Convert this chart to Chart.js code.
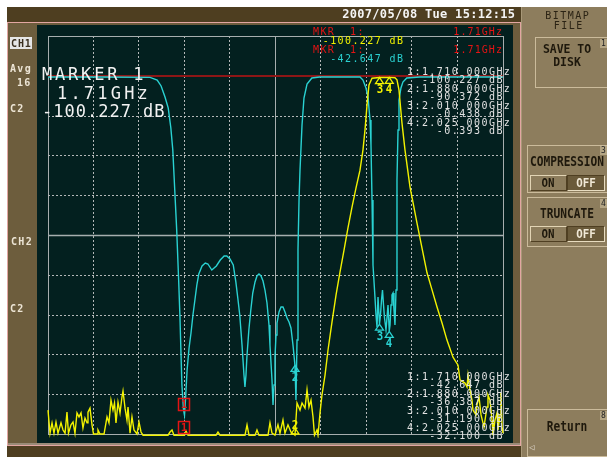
<!DOCTYPE html>
<html><head><meta charset="utf-8"><title>Network analyzer screen</title>
<script src="https://cdn.jsdelivr.net/npm/chart.js@4.4.1/dist/chart.umd.min.js"></script>
<style>
html,body{margin:0;padding:0;background:#ffffff;}
#wrap{position:relative;width:607px;height:457px;overflow:hidden;}
#bg,#fg{position:absolute;left:0;top:0;width:607px;height:457px;}
#fg{pointer-events:none;}
.r{position:absolute;box-sizing:border-box;}
.t{position:absolute;white-space:pre;font-family:"DejaVu Sans Mono",monospace;}
#c{position:absolute;left:0;top:0;}
</style></head>
<body><div id="wrap"><div id="bg"></div><canvas id="c" width="607" height="457"></canvas><div id="fg"></div></div>
<script>
// ---------- data ----------
const gridFreqs = [1.50,1.57,1.64,1.71,1.78,1.85,1.92,1.99,2.06,2.13,2.20];   // GHz, 0.07 GHz/div
const gridDbCyan = [5,0,-5,-10,-15,-20,-25,-30,-35,-40,-45];                  // 5 dB/div
const refDbCyan = 0;

const markerFreqs = [1.710, 1.880, 2.010, 2.025];
const yellowMarkerDb = [-100.227, -90.372, -0.438, -0.393];
const cyanMarkerDb = [-42.647, -36.387, -31.190, -32.100];

const cyanF = [1.500,1.580,1.657,1.668,1.674,1.680,1.685,1.689,1.692,1.695,
1.698,1.701,1.703,1.706,1.7085,1.710,1.7115,1.714,1.717,1.720,
1.723,1.726,1.729,1.732,1.737,1.742,1.746,1.752,1.759,1.765,
1.771,1.775,1.780,1.785,1.789,1.792,1.795,1.7985,1.8015,1.803,
1.8046,1.806,1.809,1.812,1.815,1.8185,1.8215,1.8246,1.8277,1.8308,
1.8338,1.8369,1.840,1.8415,1.8446,1.8462,1.8477,1.8492,1.8508,1.8523,
1.8554,1.8585,1.8615,1.8646,1.8677,1.8708,1.8738,1.8769,1.880,1.8815,
1.8831,1.8846,1.8862,1.8877,1.8908,1.8938,1.8985,1.906,1.918,1.980,
1.9846,1.9892,1.9923,1.9954,1.9969,1.9985,2.000,2.003,2.0046,2.0062,
2.0077,2.010,2.0115,2.0131,2.0146,2.0162,2.0177,2.020,2.0215,2.0231,
2.025,2.0262,2.0277,2.0292,2.0308,2.0323,2.0338,2.0354,2.0369,2.0385,
2.040,2.043,2.046,2.052,2.072,2.200];
const cyanDb = [-0.15,-0.15,-0.20,-0.53,-1.28,-2.66,-4.05,-6.56,-9.32,-14.35,
-19.37,-25.65,-30.30,-38.84,-41.98,-42.65,-40.73,-36.96,-34.20,-32.31,
-30.05,-28.17,-26.28,-24.90,-23.89,-23.52,-23.64,-24.40,-23.89,-23.14,
-22.64,-22.64,-23.02,-23.77,-25.90,-27.91,-30.05,-33.82,-37.59,-39.10,
-37.59,-35.33,-31.93,-29.42,-27.29,-25.90,-25.15,-24.90,-25.15,-25.78,
-26.91,-28.54,-31.31,-33.82,-38.22,-41.36,-38.84,-35.33,-32.56,-31.06,
-29.67,-29.05,-29.05,-29.67,-30.43,-30.93,-31.68,-33.82,-36.46,-40.73,
-33.19,-21.88,-15.60,-11.83,-6.18,-2.79,-1.03,-0.28,-0.15,-0.15,
-0.53,-1.53,-2.66,-5.55,-8.69,-15.60,-23.77,-27.79,-30.05,-31.56,
-27.79,-31.18,-30.05,-28.17,-26.91,-28.79,-30.43,-31.93,-30.43,-28.79,
-32.06,-31.31,-28.79,-27.54,-27.29,-29.42,-31.31,-26.91,-13.09,-6.81,
-3.04,-1.53,-0.78,-0.28,-0.15,-0.15];

const yellowF = [1.5000,1.5031,1.5062,1.5092,1.5123,1.5154,1.5200,1.5231,1.5262,1.5292,
1.5315,1.5354,1.5385,1.5415,1.5446,1.5477,1.5508,1.5538,1.5569,1.5600,
1.5615,1.5646,1.5677,1.5700,1.5754,1.5769,1.5800,1.5862,1.5908,1.5938,
1.5969,1.6000,1.6023,1.6046,1.6077,1.6108,1.6138,1.6154,1.6185,1.6215,
1.6231,1.6262,1.6292,1.6323,1.6369,1.6400,1.6431,1.6462,1.6846,1.6877,
1.6908,1.6938,1.7100,1.7123,1.7154,1.7585,1.7615,1.7646,1.8031,1.8062,
1.8092,1.8185,1.8215,1.8246,1.8385,1.8415,1.8446,1.8492,1.8538,1.8569,
1.8615,1.8646,1.8692,1.8738,1.8800,1.8831,1.8877,1.8908,1.8954,1.8985,
1.9015,1.9046,1.9077,1.9100,1.9138,1.9154,1.9185,1.9215,1.9262,1.9308,
1.9369,1.9431,1.9492,1.9554,1.9615,1.9677,1.9738,1.9800,1.9846,1.9877,
1.9908,1.9938,1.9985,2.0100,2.0250,2.0338,2.0369,2.0400,2.0446,2.0492,
2.0569,2.0677,2.0754,2.0831,2.0908,2.0985,2.1062,2.1138,2.1231,2.1308,
2.1338,2.1415,2.1446,2.1462,2.1492,2.1523,2.1538,2.1585,2.1600,2.1631,
2.1662,2.1692,2.1708,2.1754,2.1769,2.1800,2.1831,2.1846,2.1877,2.1908,
2.1923,2.1954,2.1969,2.1985,2.2000];
const yellowDb = [-84.0,-89.8,-87.2,-89.8,-87.0,-89.8,-87.2,-89.0,-89.8,-84.5,
-89.8,-87.7,-87.0,-89.8,-84.7,-85.7,-84.7,-88.5,-86.0,-87.2,
-84.5,-83.5,-87.7,-90.0,-90.0,-89.0,-90.0,-90.0,-85.7,-87.2,
-81.5,-84.0,-82.2,-87.2,-82.0,-84.7,-80.7,-79.2,-83.5,-86.5,
-83.2,-89.8,-85.7,-89.0,-90.0,-87.0,-89.5,-90.3,-90.3,-89.5,
-89.0,-90.3,-90.3,-89.2,-90.3,-90.3,-89.5,-90.3,-90.3,-87.7,
-90.3,-90.3,-89.0,-90.3,-90.3,-87.2,-89.8,-90.3,-87.7,-89.8,
-86.5,-89.8,-87.7,-89.5,-90.3,-82.2,-84.0,-82.2,-83.5,-78.9,
-83.2,-81.5,-85.7,-90.3,-89.0,-90.3,-84.7,-80.2,-75.2,-68.9,
-61.9,-55.1,-49.3,-43.8,-38.2,-33.0,-28.2,-23.7,-18.6,-13.6,
-7.3,-2.3,-0.6,-0.44,-0.39,-0.5,-1.0,-3.6,-11.9,-18.6,
-27.9,-37.0,-43.3,-49.5,-53.8,-58.1,-62.1,-66.4,-70.7,-72.7,
-76.4,-77.2,-78.2,-75.2,-78.9,-81.5,-84.0,-85.2,-82.7,-80.7,
-85.2,-87.2,-88.2,-83.2,-80.2,-81.5,-86.5,-90.3,-86.5,-84.7,
-89.0,-85.2,-79.5,-88.2,-89.8];

// ---------- colours ----------
const CYAN = '#2ad2d2', YEL = '#f2f200', RED = '#e41414';

// ---------- helpers ----------
const bg = document.getElementById('bg'), fg = document.getElementById('fg');
function rect(x,y,w,h,color,extra){
  const d=document.createElement('div'); d.className='r';
  Object.assign(d.style,{left:x+'px',top:y+'px',width:w+'px',height:h+'px',background:color},extra||{});
  bg.appendChild(d); return d;
}
function txt(s,x,base,size,color,o){
  o=o||{};
  const d=document.createElement('div'); d.className='t'; d.textContent=s;
  d.style.fontSize=size+'px'; d.style.lineHeight=size+'px'; d.style.color=color;
  d.style.top=(base-0.846*size)+'px';
  if(o.bold) d.style.fontWeight='bold';
  const ls=o.ls||0; if(ls) d.style.letterSpacing=ls+'px';
  const sx=o.sx||1;
  if(o.align==='right'){
    d.style.right=(607-x-ls)+'px'; d.style.transformOrigin='right center';
    if(sx!==1) d.style.transform='scaleX('+sx+')';
  } else if(o.align==='center'){
    d.style.left=(x+ls/2)+'px'; d.style.transformOrigin='center center';
    d.style.transform='translateX(-50%)'+(sx!==1?' scaleX('+sx+')':'');
  } else {
    d.style.left=x+'px'; d.style.transformOrigin='left center';
    if(sx!==1) d.style.transform='scaleX('+sx+')';
  }
  fg.appendChild(d); return d;
}

// ---------- screen frame ----------
const TOP='#4e3e20', BROWN='#6d5d3d', TAN='#8d7d5d', PINK='#e2a6a2', PLOT='#03201f';
rect(7,7,515,15,TOP);
rect(7,22,515,1,PINK);
rect(7,23,514,423,BROWN);
rect(7,22,1,424,PINK);
rect(520,22,1,424,PINK);
rect(37,25,476,418,PLOT);
rect(8,443,512,2,'#9a8b78');
rect(7,445,514,1,PINK);
rect(7,446,515,11,TOP);
rect(521,7,86,450,TAN);
rect(521,7,1,450,'#a89878');
const LIGHT='#cbbb9b', DARK='#4f3f22';
function panelBox(x,y,w,h){rect(x,y,w,h,TAN,{borderTop:'1px solid '+LIGHT,borderLeft:'1px solid '+LIGHT,borderBottom:'1px solid '+LIGHT});}
panelBox(535,37,72,51);
panelBox(527,145,80,48);
panelBox(527,197,80,50);
panelBox(527,409,80,48);
function onOff(y){
  rect(530,y,37,16,TAN,{borderTop:'1px solid #e2d4b4',borderLeft:'1px solid #e2d4b4',borderBottom:'1px solid '+DARK,borderRight:'1px solid '+DARK});
  rect(567,y,38,16,'#6a5a3a',{borderTop:'1px solid '+DARK,borderLeft:'1px solid '+DARK,borderBottom:'1px solid #e8dcc0',borderRight:'1px solid #e8dcc0'});
}
onOff(175); onOff(226);
function tag(n,y){ rect(600,y,7,9,'#b4a584'); txt(n,601,y+8,8,'#222'); }
tag('1',39); tag('3',146); tag('4',199); tag('8',411);

// ---------- chart ----------
const gridPlugin = {
  id:'scopeGrid',
  beforeDatasetsDraw(chart){
    const {ctx, chartArea:a, scales} = chart, xs=scales.x, ys=scales.yC;
    ctx.save(); ctx.lineWidth=1;
    const last = gridFreqs.length-1, mid = last/2;
    gridFreqs.forEach((f,i)=>{
      const px=Math.floor(xs.getPixelForValue(f))+0.5;
      const solid=(i===0||i===last||i===mid);
      ctx.setLineDash(solid?[]:[2,2]);
      ctx.strokeStyle=solid?'#a6aeae':'#b4b8b8';
      ctx.beginPath(); ctx.moveTo(px,a.top); ctx.lineTo(px,a.bottom); ctx.stroke();
    });
    gridDbCyan.forEach((v,i)=>{
      const py=Math.round(ys.getPixelForValue(v))+0.5;
      const solid=(i===0||i===last||i===mid);
      ctx.setLineDash(solid?[]:[2,2]);
      ctx.strokeStyle=solid?'#a6aeae':'#b4b8b8';
      ctx.lineWidth=(i===mid)?1.6:1;
      ctx.beginPath(); ctx.moveTo(a.left,py); ctx.lineTo(a.right,py); ctx.stroke();
    });
    ctx.setLineDash([]);
    const ry=Math.round(ys.getPixelForValue(refDbCyan));
    ctx.strokeStyle='#8e1616'; ctx.lineWidth=2;
    ctx.beginPath(); ctx.moveTo(a.left,ry); ctx.lineTo(a.right,ry); ctx.stroke();
    ctx.restore();
  }
};

function markerPix(chart, axisId, f, v){
  const a=chart.chartArea;
  return {x:chart.scales.x.getPixelForValue(f), y:chart.scales[axisId].getPixelForValue(v), a};
}
const markerPlugin = {
  id:'markers',
  afterDatasetsDraw(chart){
    const ctx=chart.ctx; ctx.save();
    [['yY',yellowMarkerDb,YEL],['yC',cyanMarkerDb,CYAN]].forEach(([ax,vals,col])=>{
      markerFreqs.forEach((f,i)=>{
        const p=markerPix(chart,ax,f,vals[i]);
        if(i===0){
          const bot=Math.min(p.y,p.a.bottom+4)-5;
          ctx.strokeStyle=RED; ctx.lineWidth=1.5;
          ctx.strokeRect(Math.round(p.x)-5.5,Math.round(bot)-11.5,11,12);
        } else {
          const ty=Math.min(p.y,p.a.bottom-6);
          ctx.strokeStyle=col; ctx.lineWidth=1.3;
          ctx.beginPath(); ctx.moveTo(p.x,ty); ctx.lineTo(p.x-4,ty+6); ctx.lineTo(p.x+4,ty+6); ctx.closePath(); ctx.stroke();
        }
      });
    });
    ctx.restore();
  }
};

const chart = new Chart(document.getElementById('c'), {
  type:'line',
  data:{datasets:[
    {label:'Trace B', data:yellowF.map((f,i)=>({x:f,y:yellowDb[i]})), borderColor:YEL, borderWidth:1.4,
     pointRadius:0, tension:0, yAxisID:'yY', clip:4},
    {label:'Trace A', data:cyanF.map((f,i)=>({x:f,y:cyanDb[i]})), borderColor:CYAN, borderWidth:1.4,
     pointRadius:0, tension:0, yAxisID:'yC', clip:4}
  ]},
  options:{
    responsive:false, animation:false, events:[],
    layout:{padding:{left:48,top:36,right:104,bottom:23}},
    plugins:{legend:{display:false},tooltip:{enabled:false}},
    scales:{
      x:{type:'linear',min:gridFreqs[0],max:gridFreqs[gridFreqs.length-1],display:false},
      yC:{type:'linear',min:gridDbCyan[gridDbCyan.length-1],max:gridDbCyan[0],display:false},
      yY:{type:'linear',min:-90,max:10,display:false}
    }
  },
  plugins:[gridPlugin, markerPlugin]
});

// ---------- texts ----------
txt('2007/05/08 Tue 15:12:15',515,18,12,'#f4f4f4',{bold:true,ls:0.3,align:'right'});

// left panel
rect(10,37,22,12,'#e6e6e6');
txt('CH1',11,47,10,'#3b3020',{bold:true,ls:0.9});
txt('Avg',10,72,10,'#ece4d4',{bold:true,ls:1.3});
txt('16',17,86,10,'#ece4d4',{bold:true,ls:1.3});
txt('C2',10,112,10,'#ece4d4',{bold:true,ls:1.3});
txt('CH2',11,245,10,'#ece4d4',{bold:true,ls:1.3});
txt('C2',10,312,10,'#ece4d4',{bold:true,ls:1.3});

// right panel
txt('BITMAP',567,19,10,'#2b2314',{ls:1.5,align:'center'});
txt('FILE',568,29,10,'#2b2314',{ls:1.5,align:'center'});
txt('SAVE TO',567,53,13,'#1e180c',{bold:true,sx:0.88,align:'center'});
txt('DISK',567,66,13,'#1e180c',{bold:true,sx:0.88,align:'center'});
txt('COMPRESSION',567,166,14,'#1e180c',{bold:true,sx:0.8,align:'center'});
txt('TRUNCATE',567,218,14,'#1e180c',{bold:true,sx:0.8,align:'center'});
['ON','OFF'].forEach((s,k)=>{
  [187,238].forEach(b=>txt(s,k?586:548,b,12,k?'#f0e8d6':'#1e180c',{bold:true,sx:0.9,align:'center'}));
});
txt('Return',567,431,14,'#1e180c',{bold:true,sx:0.8,align:'center'});
txt('\u25C1',529,451,9,'#d8d0c4');

// marker readouts
const fmtF = f => f.toFixed(2)+'GHz';
const fmtV = v => v.toFixed(3)+' dB';
txt('MARKER 1',42,80,17,'#f2f2f2',{ls:2.8});
txt(fmtF(markerFreqs[0]),57,99,17,'#f2f2f2',{ls:3.2});
txt(fmtV(yellowMarkerDb[0]),42,117,17,'#f2f2f2',{ls:1.0});

txt('MKR  1:',313,35,10,RED,{ls:1.4});
txt(fmtF(markerFreqs[0]),502,35,10,RED,{ls:1.1,align:'right'});
txt(fmtV(yellowMarkerDb[0]),403,44,10,YEL,{ls:1.4,align:'right'});
txt('MKR  1:',313,53,10,RED,{ls:1.4});
txt(fmtF(markerFreqs[0]),502,53,10,RED,{ls:1.1,align:'right'});
txt(fmtV(cyanMarkerDb[0]),403,62,10,CYAN,{ls:1.4,align:'right'});

function list(vals, base0){
  markerFreqs.forEach((f,i)=>{
    txt((i+1)+':'+f.toFixed(3)+' 000GHz',407,base0+i*16.9,10,'#e2e2e2',{ls:1.43});
    txt(fmtV(vals[i]).padStart(13),407,base0+i*16.9+8.45,10,'#e2e2e2',{ls:1.43});
  });
}
list(yellowMarkerDb,75.5);
list(cyanMarkerDb,380.5);

// marker numbers placed from the chart scales
[['yY',yellowMarkerDb,YEL],['yC',cyanMarkerDb,CYAN]].forEach(([ax,vals,col])=>{
  markerFreqs.forEach((f,i)=>{
    const p=markerPix(chart,ax,f,vals[i]);
    if(i===0){
      const bot=Math.min(p.y,p.a.bottom+4)-5;
      txt(String(i+1),Math.round(p.x),Math.round(bot)-2,11,RED,{bold:true,align:'center'});
    } else if(p.y>p.a.bottom-8){
      txt(String(i+1),p.x,p.a.bottom-5,12,col,{bold:true,sx:0.9,align:'center'});
    } else {
      txt(String(i+1),p.x,p.y+16,12,col,{bold:true,sx:0.9,align:'center'});
    }
  });
});
</script></body></html>
